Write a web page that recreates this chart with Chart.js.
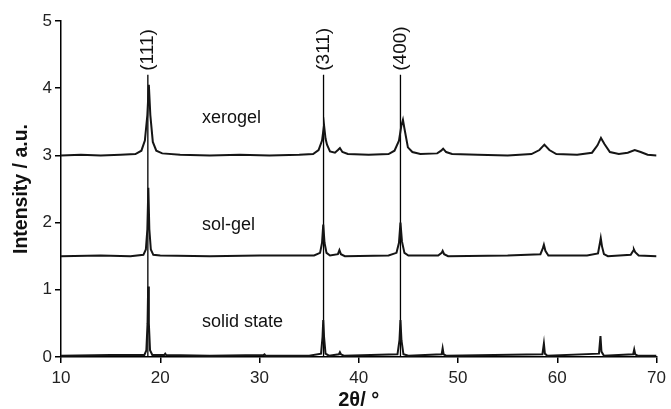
<!DOCTYPE html>
<html>
<head>
<meta charset="utf-8">
<title>XRD patterns</title>
<script src="https://cdn.jsdelivr.net/npm/chart.js@4.4.1/dist/chart.umd.min.js"></script>
<style>
  html, body { margin: 0; padding: 0; background: #fff; }
  #wrap { width: 671px; height: 409px; }
</style>
</head>
<body>
<div id="wrap"><canvas id="xrdChart" width="671" height="409"></canvas></div>
<script>
// 2theta / intensity (offset stacked: 0, 1.5, 3)
const xerogelX = [10, 12, 14, 16, 17.5, 18.1, 18.45, 18.7, 18.85, 19.0, 19.25, 19.6, 20.2, 22, 25, 28, 31, 34, 35.4, 35.95, 36.3, 36.5, 36.65, 36.8, 37.1, 37.6, 37.9, 38.1, 38.35, 38.9, 41, 43, 43.6, 44.05, 44.3, 44.45, 44.6, 44.95, 45.4, 46.2, 47.9, 48.3, 48.5, 48.8, 49.4, 52, 55, 57.4, 58.2, 58.7, 59.2, 59.9, 62, 63.5, 64.05, 64.4, 64.75, 65.3, 66.2, 67.1, 67.8, 68.4, 69.1, 70];
const xerogelY = [3.0, 3.01, 3.0, 3.01, 3.02, 3.07, 3.22, 3.6, 4.05, 3.6, 3.2, 3.07, 3.03, 3.01, 3.0, 3.01, 3.0, 3.01, 3.02, 3.08, 3.22, 3.45, 3.25, 3.16, 3.06, 3.04, 3.08, 3.11, 3.05, 3.02, 3.01, 3.02, 3.07, 3.22, 3.45, 3.53, 3.4, 3.12, 3.05, 3.02, 3.03, 3.07, 3.1, 3.05, 3.02, 3.01, 3.0, 3.02, 3.08, 3.16, 3.08, 3.02, 3.01, 3.04, 3.15, 3.26, 3.17, 3.05, 3.02, 3.04, 3.08, 3.05, 3.01, 3.0];

const solGelX = [10, 14, 17, 18.3, 18.55, 18.7, 18.8, 18.9, 19.05, 19.3, 20, 25, 30, 35.5, 36.1, 36.3, 36.42, 36.55, 36.75, 37.1, 37.9, 38.05, 38.2, 38.6, 43, 43.8, 44.05, 44.2, 44.35, 44.6, 45, 48, 48.35, 48.45, 48.6, 49, 55, 58.3, 58.55, 58.65, 58.8, 59.1, 63, 64.1, 64.3, 64.38, 64.5, 64.7, 65.1, 67.4, 67.65, 67.72, 67.85, 68.2, 70];
const solGelY = [1.5, 1.51, 1.5, 1.52, 1.6, 1.9, 2.52, 1.9, 1.6, 1.52, 1.51, 1.5, 1.51, 1.51, 1.55, 1.7, 1.97, 1.7, 1.55, 1.51, 1.53, 1.59, 1.53, 1.5, 1.51, 1.55, 1.7, 2.0, 1.72, 1.55, 1.51, 1.51, 1.55, 1.58, 1.53, 1.5, 1.51, 1.53, 1.62, 1.67, 1.58, 1.51, 1.51, 1.54, 1.7, 1.77, 1.65, 1.53, 1.5, 1.52, 1.58, 1.6, 1.56, 1.51, 1.5];

const solidX = [10, 15, 18.4, 18.6, 18.72, 18.78, 18.85, 18.97, 19.2, 20.4, 20.5, 20.6, 25, 30.4, 30.5, 30.6, 35, 36.2, 36.35, 36.42, 36.5, 36.65, 37, 38.0, 38.1, 38.2, 38.5, 43.9, 44.1, 44.2, 44.3, 44.5, 45, 48.35, 48.45, 48.55, 48.8, 58.5, 58.65, 58.75, 59, 64.2, 64.35, 64.45, 64.7, 67.65, 67.75, 67.85, 68.1, 70];
const solidY = [0.02, 0.03, 0.03, 0.1, 0.5, 1.05, 0.5, 0.1, 0.03, 0.03, 0.05, 0.03, 0.02, 0.03, 0.04, 0.02, 0.02, 0.05, 0.3, 0.55, 0.3, 0.05, 0.02, 0.04, 0.07, 0.04, 0.02, 0.04, 0.25, 0.55, 0.25, 0.04, 0.02, 0.04, 0.13, 0.04, 0.02, 0.04, 0.2, 0.05, 0.02, 0.05, 0.31, 0.08, 0.02, 0.04, 0.11, 0.04, 0.02, 0.02];

// reflection markers
const hklLabels = ['(111)', '(311)', '(400)'];
const hklPos = [18.75, 36.45, 44.2];
const hklTop = 4.2;

// sample names
const sampleNames = ['xerogel', 'sol-gel', 'solid state'];

const FONT = '"Liberation Sans", Arial, Helvetica, sans-serif';

function toPoints(xs, ys) {
  return xs.map((x, i) => ({ x: x, y: ys[i] }));
}

const traceStyle = {
  borderColor: '#151515',
  borderWidth: 2,
  pointRadius: 0,
  tension: 0,
  fill: false
};

const datasets = [
  Object.assign({ label: sampleNames[0], data: toPoints(xerogelX, xerogelY) }, traceStyle),
  Object.assign({ label: sampleNames[1], data: toPoints(solGelX, solGelY) }, traceStyle),
  Object.assign({ label: sampleNames[2], data: toPoints(solidX, solidY) }, traceStyle)
];

hklPos.forEach((p, i) => {
  datasets.push({
    label: hklLabels[i],
    data: [{ x: p, y: 0 }, { x: p, y: hklTop }],
    borderColor: '#000',
    borderWidth: 1.3,
    pointRadius: 0,
    fill: false
  });
});

// draws the hkl labels and the sample names
const annotations = {
  id: 'annotations',
  afterDatasetsDraw(chart) {
    const { ctx, scales } = chart;
    const xs = scales.x, ys = scales.y;
    ctx.save();
    ctx.fillStyle = '#111';

    // rotated reflection labels above the lines
    ctx.font = '19px ' + FONT;
    ctx.textAlign = 'left';
    ctx.textBaseline = 'middle';
    hklPos.forEach((p, i) => {
      const px = xs.getPixelForValue(p);
      const py = ys.getPixelForValue(hklTop) - 4;
      ctx.save();
      ctx.translate(px, py);
      ctx.rotate(-Math.PI / 2);
      ctx.fillText(hklLabels[i], 0, 0);
      ctx.restore();
    });

    // sample names
    ctx.font = '18px ' + FONT;
    const namePos = [[24.2, 3.56], [24.2, 1.96], [24.2, 0.52]];
    sampleNames.forEach((n, i) => {
      ctx.fillText(n, xs.getPixelForValue(namePos[i][0]), ys.getPixelForValue(namePos[i][1]));
    });
    ctx.restore();
  }
};

new Chart(document.getElementById('xrdChart'), {
  type: 'line',
  data: { datasets: datasets },
  options: {
    responsive: false,
    animation: false,
    devicePixelRatio: 1,
    layout: { padding: { top: 21, right: 11, bottom: 0, left: 0 } },
    plugins: {
      legend: { display: false },
      tooltip: { enabled: false }
    },
    scales: {
      x: {
        type: 'linear',
        min: 10,
        max: 70,
        afterFit(scale) { scale.height = 52; },
        ticks: {
          stepSize: 10,
          color: '#222',
          padding: 5,
          maxRotation: 0,
          font: { family: FONT, size: 17 }
        },
        grid: {
          display: true,
          drawOnChartArea: false,
          drawTicks: true,
          tickLength: 6,
          color: '#000',
          lineWidth: 1.5
        },
        border: { display: true, color: '#000', width: 1.5 },
        title: {
          display: true,
          text: '2θ/ °',
          color: '#111',
          padding: { top: 0, bottom: -3 },
          font: { family: FONT, size: 20, weight: 'bold' }
        }
      },
      y: {
        type: 'linear',
        min: 0,
        max: 5,
        afterFit(scale) { scale.width = 61; },
        ticks: {
          stepSize: 1,
          color: '#222',
          padding: 3,
          font: { family: FONT, size: 17 }
        },
        grid: {
          display: true,
          drawOnChartArea: false,
          drawTicks: true,
          tickLength: 6,
          color: '#000',
          lineWidth: 1.5
        },
        border: { display: true, color: '#000', width: 1.5 },
        title: {
          display: true,
          text: 'Intensity / a.u.',
          color: '#111',
          padding: { top: 10, bottom: 0 },
          font: { family: FONT, size: 19.5, weight: 'bold' }
        }
      }
    }
  },
  plugins: [annotations]
});
</script>
</body>
</html>
